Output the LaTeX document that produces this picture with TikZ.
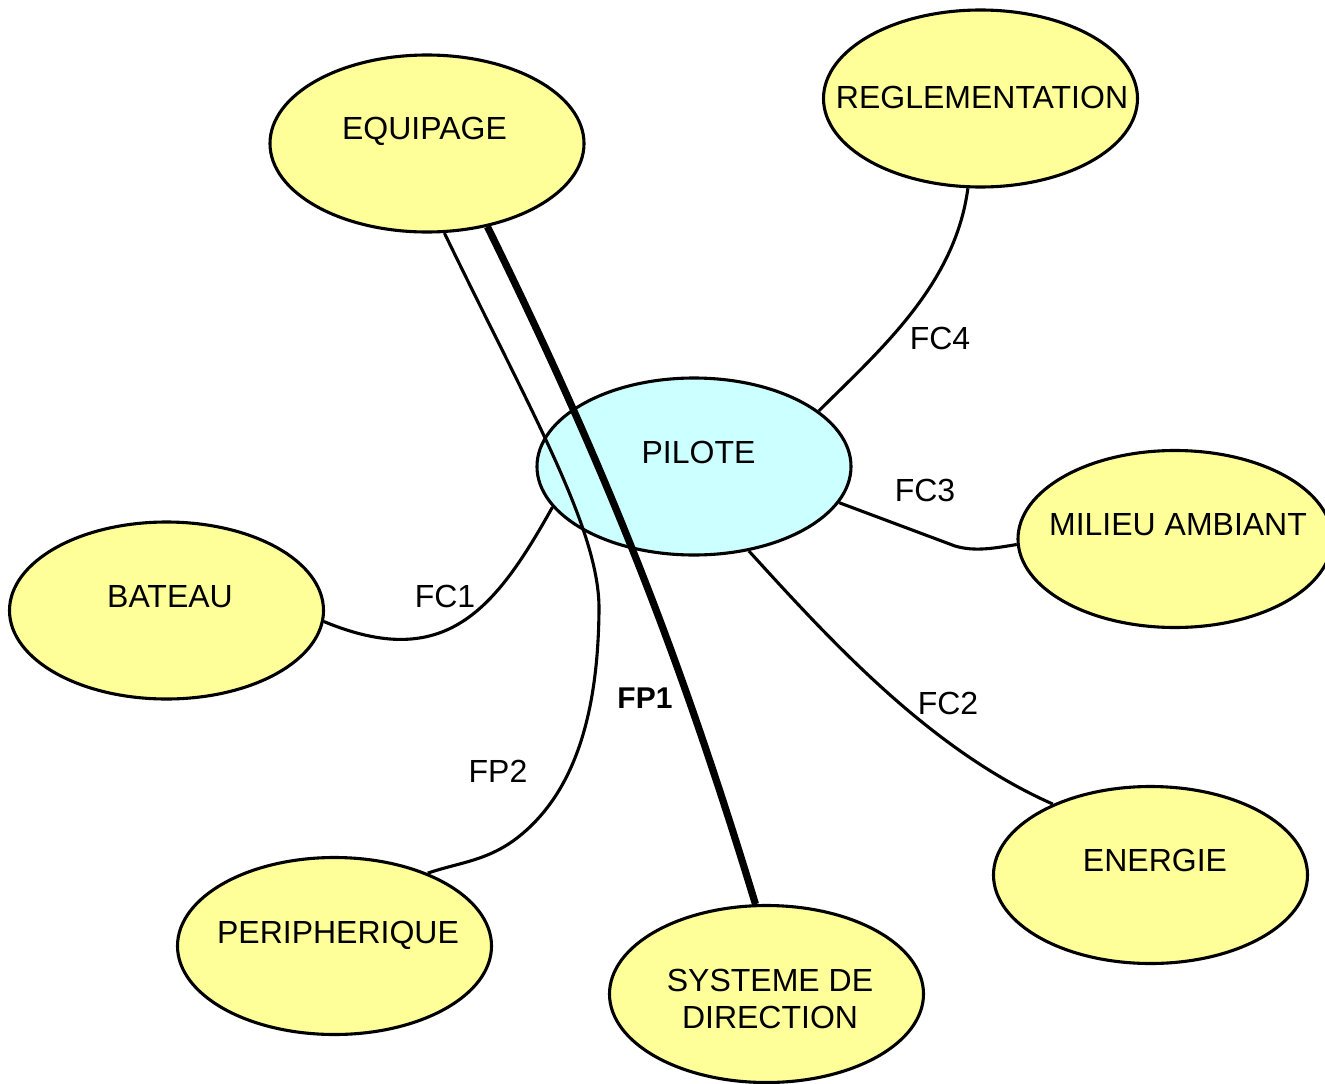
\documentclass[tikz,border=0pt]{standalone}
\usepackage{fontspec}
\setmainfont{Liberation Sans}
\usetikzlibrary{shapes.geometric}
\definecolor{pyellow}{HTML}{FFFF99}
\definecolor{pcyan}{HTML}{CCFFFF}
\begin{document}
\begin{tikzpicture}[x=1pt,y=-1pt,
  bubble/.style={ellipse, draw=black, line width=3.1pt, fill=pyellow,
    minimum width=314pt, minimum height=177pt, inner sep=0pt},
  centre/.style={bubble, fill=pcyan},
  lab/.style={font=\fontsize{32}{37}\selectfont, inner sep=0pt, text height=23pt, text depth=0pt},
  flab/.style={lab},
  link/.style={line width=3.1pt},
  mainlink/.style={line width=7.2pt}
]
\clip (0,0) rectangle (1325,1084);
\fill[white] (0,0) rectangle (1325,1084);

% ellipses
\node[bubble] (equipage) at (427,143.5) {};
\node[bubble] (regle) at (980.5,98.5) {};
\node[centre] (pilote) at (694,466.5) {};
\node[bubble] (milieu) at (1175,539) {};
\node[bubble] (bateau) at (166.5,610.5) {};
\node[bubble] (energie) at (1150.5,875) {};
\node[bubble] (periph) at (334.5,946) {};
\node[bubble] (systeme) at (766.5,994) {};

% texts in ellipses
\node[lab] (tequipage) at (424.5,128) {EQUIPAGE};
\node[lab] (tregle) at (982,97) {REGLEMENTATION};
\node[lab] (tpilote) at (698.5,452) {PILOTE};
\node[lab] (tmilieu) at (1178,524) {MILIEU AMBIANT};
\node[lab] (tbateau) at (170,596) {BATEAU};
\node[lab] (tenergie) at (1155,860) {ENERGIE};
\node[lab] (tperiph) at (338,932) {PERIPHERIQUE};
\node[font=\fontsize{32}{37}\selectfont, inner sep=0pt, align=center] (tsysteme) at (770,998.5) {SYSTEME DE\\DIRECTION};

% connectors
\draw[link] (equipage.-79.75) .. controls (530,410) and (600,530) .. (599,610)
  .. controls (598,720) and (572,792) .. (522,834)
  .. controls (490,861) and (460,862) .. (periph.38.9);
\draw[mainlink] (equipage.-54.5) .. controls (608,472) and (680,656) .. (systeme.97.4);
\draw[link] (pilote.24.5) .. controls (880,350) and (955,285) .. (regle.262.6);
\draw[link] (pilote.-14) -- (955,546) .. controls (975,552) and (995,548) .. (milieu.182.2);
\draw[link] (pilote.-57.7) .. controls (830,640) and (930,750) .. (energie.144.6);
\draw[link] (pilote.196.6) .. controls (495,610) and (445,672) .. (bateau.-4.9);

% connector labels
\node[flab] (fc4) at (940,338) {FC4};
\node[flab] (fc3) at (925,490) {FC3};
\node[flab] (fc2) at (948,703) {FC2};
\node[flab] (fc1) at (445,596) {FC1};
\node[flab, font=\fontsize{30}{36}\selectfont\bfseries] (fp1) at (645,697) {FP1};
\node[flab] (fp2) at (498,771) {FP2};
\end{tikzpicture}
\end{document}
